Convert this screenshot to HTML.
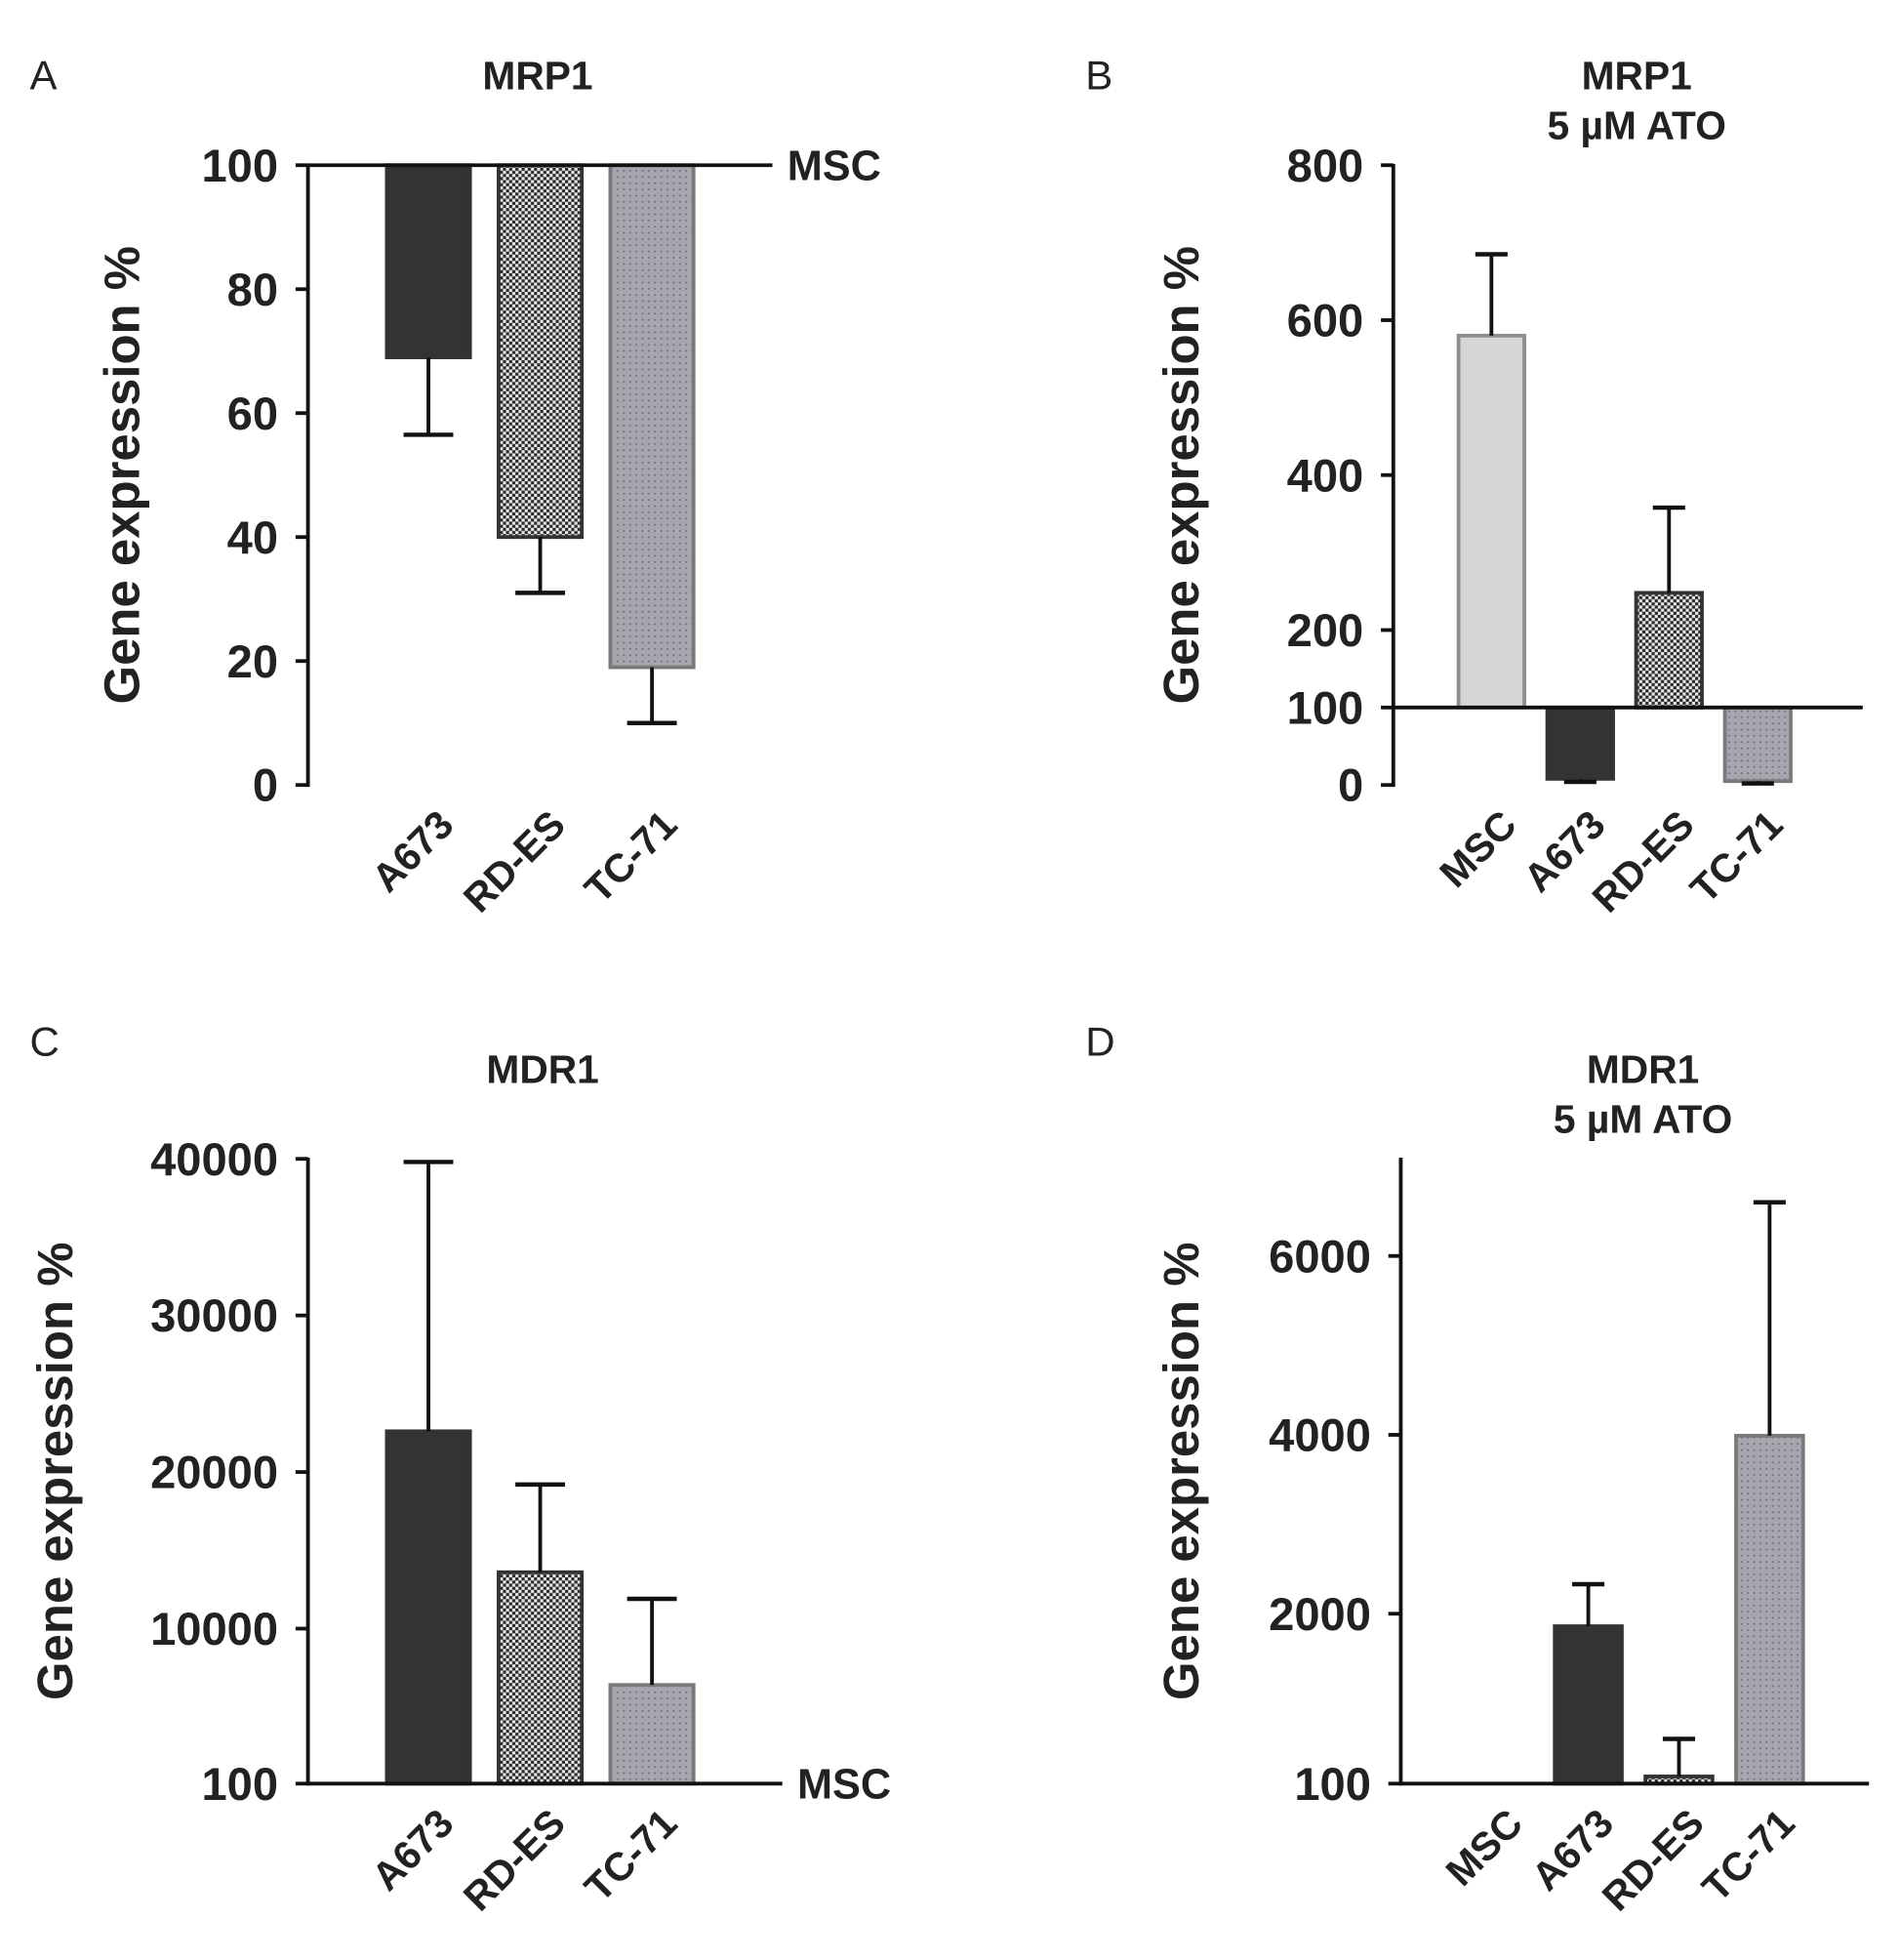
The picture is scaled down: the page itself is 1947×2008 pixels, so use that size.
<!DOCTYPE html>
<html><head><meta charset="utf-8"><style>
html,body{margin:0;padding:0;background:#fff}
svg{display:block}
text{font-family:"Liberation Sans",Arial,sans-serif}
</style></head><body>
<svg id="fig" width="1947" height="2008" viewBox="0 0 1530 1578" preserveAspectRatio="none" xmlns="http://www.w3.org/2000/svg">
<defs>
<pattern id="checker" width="5" height="5" patternUnits="userSpaceOnUse">
<rect width="5" height="5" fill="#e8e8e8"/><rect width="2.5" height="2.5" fill="#2a2a2a"/><rect x="2.5" y="2.5" width="2.5" height="2.5" fill="#2a2a2a"/>
</pattern>
<pattern id="dots" width="5" height="5" patternUnits="userSpaceOnUse">
<rect width="5" height="5" fill="#a6a6ae"/><circle cx="2.5" cy="2.5" r="0.8" fill="#6e6e78"/>
</pattern>
</defs>
</svg>
<script>
// Panel A: MRP1
const catsA = ["A673","RD-ES","TC-71"];
const valsA = [69, 40, 19];
const errsA = [12.5, 9, 9];
const ticksA = [0,20,40,60,80,100];
// Panel B: MRP1 5 µM ATO
const catsB = ["MSC","A673","RD-ES","TC-71"];
const valsB = [580, 8, 248, 5];
const errsB = [105, 4, 110, 3];
const ticksB = [0,100,200,400,600,800];
// Panel C: MDR1
const catsC = ["A673","RD-ES","TC-71"];
const valsC = [22600, 13600, 6400];
const errsC = [17200, 5600, 5500];
const ticksC = [100,10000,20000,30000,40000];
// Panel D: MDR1 5 µM ATO
const catsD = ["MSC","A673","RD-ES","TC-71"];
const valsD = [100, 1860, 180, 3990];
const errsD = [0, 470, 420, 2610];
const ticksD = [100,2000,4000,6000];

const NS="http://www.w3.org/2000/svg";
const svg=document.getElementById('fig');
function mk(tag,attrs,parent,txt){const e=document.createElementNS(NS,tag);for(const k in attrs)e.setAttribute(k,attrs[k]);if(txt!==undefined)e.textContent=txt;(parent||svg).appendChild(e);return e;}

const fills={"MSC":["#d6d6d6","#8e8e8e"],"A673":["#333333","#333333"],"RD-ES":["url(#checker)","#333333"],"TC-71":["url(#dots)","#7a7a7a"]};

function panel(cfg){
  const g=mk('g',{});
  
  
  const y=v=>cfg.y1-(v-cfg.d0)/(cfg.d1-cfg.d0)*(cfg.y1-cfg.y0);
  const l=mk('text',{x:cfg.lx,y:cfg.ly,'font-size':33,fill:'#222'},g,cfg.id);
  
  
  cfg.title.forEach((t,i)=>{
    const tt=mk('text',{x:cfg.tx,y:cfg.ty+i*40,'font-size':32,'font-weight':'bold','text-anchor':'middle',fill:'#222'},g,t);
    
    
  });
  const yt=mk('text',{x:0,y:0,'font-size':40,'font-weight':'bold','text-anchor':'middle',fill:'#222',transform:`translate(${cfg.ytx},${(cfg.y0+cfg.y1)/2}) rotate(-90)`},g,'Gene expression %');
  
  
  cfg.cats.forEach((c,i)=>{
    const cx=cfg.x0+cfg.first+i*cfg.step;
    const v=cfg.vals[i], e=cfg.errs[i];
    const yb=y(cfg.base), yv=y(v);
    const [f,s]=fills[c];
    if(Math.abs(yv-yb)>0.5){
      const r=mk('rect',{x:cx-cfg.bw/2,y:Math.min(yb,yv),width:cfg.bw,height:Math.abs(yv-yb),fill:f,stroke:s,'stroke-width':3},g);
      
      
    }
    if(e>0){
      const dir=v<cfg.base?-1:1;
      const ye=y(v+dir*e);
      const el=mk('line',{x1:cx,x2:cx,y1:yv,y2:ye,stroke:'#111','stroke-width':3},g);
      
      
      const cap=mk('line',{x1:cx-cfg.cap,x2:cx+cfg.cap,y1:ye,y2:ye,stroke:'#111','stroke-width':3.5},g);
      
      
    }
    const cl=mk('text',{x:0,y:0,'font-size':32,'font-weight':'bold','text-anchor':'end',fill:'#222',transform:`translate(${cx+22},${cfg.y1+34}) rotate(-45)`},g,c);
    
    
  });
  const ax=mk('line',{x1:cfg.x0,x2:cfg.x0,y1:cfg.y0-1,y2:cfg.y1+1.5,stroke:'#111','stroke-width':3},g);
  
  
  const by=y(cfg.base);
  const bl=mk('line',{x1:cfg.x0,x2:cfg.xe,y1:by,y2:by,stroke:'#111','stroke-width':3},g);
  
  
  if(cfg.msc){
    const m=mk('text',{x:cfg.xe+12,y:by+12,'font-size':34,'font-weight':'bold',fill:'#222'},g,'MSC');
    
    
  }
  cfg.ticks.forEach(t=>{
    const ty=y(t);
    const tk=mk('line',{x1:cfg.x0-10,x2:cfg.x0,y1:ty,y2:ty,stroke:'#111','stroke-width':3},g);
    
    
    const tl=mk('text',{x:cfg.x0-24,y:ty+13,'font-size':37,'font-weight':'bold','text-anchor':'end',fill:'#222'},g,String(t));
    
    
  });
}

panel({id:'A',lx:24,ly:72,tx:433,ty:72,title:['MRP1'],ytx:112,x0:248,xe:622,y0:133,y1:632,d0:0,d1:100,base:100,
  cats:catsA,vals:valsA,errs:errsA,ticks:ticksA,first:97,step:90,bw:67,cap:20,msc:true});
panel({id:'B',lx:874,ly:72,tx:1318,ty:72,title:['MRP1','5 µM ATO'],ytx:965,x0:1122,xe:1500,y0:133,y1:632,d0:0,d1:800,base:100,
  cats:catsB,vals:valsB,errs:errsB,ticks:ticksB,first:79,step:71.5,bw:53,cap:13});
panel({id:'C',lx:24,ly:850,tx:437,ty:872,title:['MDR1'],ytx:58,x0:248,xe:630,y0:933,y1:1436,d0:100,d1:40000,base:100,
  cats:catsC,vals:valsC,errs:errsC,ticks:ticksC,first:97,step:90,bw:67,cap:20,msc:true});
panel({id:'D',lx:874,ly:850,tx:1323,ty:872,title:['MDR1','5 µM ATO'],ytx:965,x0:1128,xe:1505,y0:933,y1:1436,d0:100,d1:7086,base:100,
  cats:catsD,vals:valsD,errs:errsD,ticks:ticksD,first:78,step:73,bw:54,cap:13});
</script>
</body></html>
